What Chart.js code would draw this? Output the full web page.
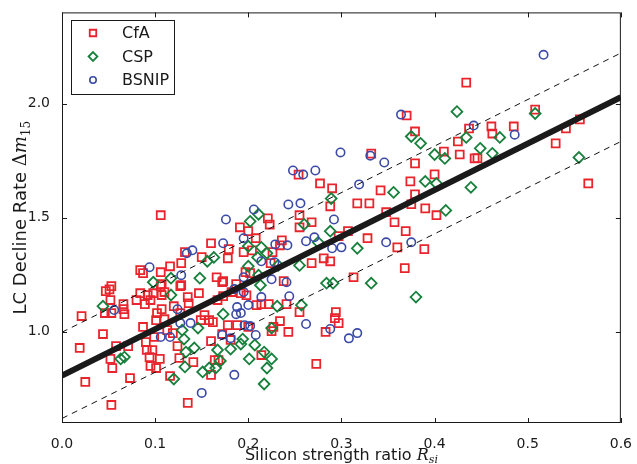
<!DOCTYPE html>
<html>
<head>
<meta charset="utf-8">
<script src="https://cdn.jsdelivr.net/npm/chart.js@4.4.1/dist/chart.umd.min.js"></script>
<style>
  body { margin: 0; background: #fff; }
  canvas { display: block; }
</style>
</head>
<body>
<canvas id="chart" width="637" height="464"></canvas>
<script>
// values
const cfaX = [0.434, 0.370, 0.379, 0.437, 0.425, 0.508, 0.461, 0.462, 0.485, 0.541, 0.556, 0.530, 0.446, 0.565,
  0.332, 0.410, 0.427, 0.443, 0.379, 0.342, 0.400, 0.374, 0.379, 0.317, 0.330, 0.375, 0.390, 0.402, 0.348, 0.357,
  0.369, 0.307, 0.297, 0.328, 0.360, 0.389, 0.368, 0.313,
  0.254, 0.277, 0.290, 0.288, 0.221, 0.223, 0.255, 0.255, 0.268, 0.191, 0.200, 0.208, 0.160, 0.236, 0.234, 0.179,
  0.195, 0.204, 0.226, 0.150, 0.178, 0.224, 0.197, 0.202, 0.268, 0.281, 0.288, 0.166, 0.173, 0.238, 0.187,
  0.172, 0.182, 0.192, 0.198, 0.167, 0.173, 0.214, 0.222, 0.209, 0.241, 0.255, 0.153, 0.158, 0.162, 0.149, 0.178,
  0.188, 0.200, 0.225, 0.227, 0.234, 0.243, 0.172, 0.181, 0.160, 0.164, 0.168, 0.160, 0.214, 0.273, 0.294, 0.293,
  0.297, 0.283,
  0.051, 0.047, 0.052, 0.066, 0.066, 0.067, 0.046, 0.053, 0.021, 0.084, 0.092, 0.098, 0.080, 0.089, 0.095, 0.106,
  0.107, 0.110, 0.127, 0.135, 0.136, 0.147, 0.102, 0.107, 0.101, 0.110, 0.120, 0.127, 0.044, 0.087, 0.019, 0.058,
  0.071, 0.052, 0.054, 0.090, 0.091, 0.097, 0.099, 0.094, 0.095, 0.101, 0.105, 0.113, 0.119, 0.124, 0.126, 0.141,
  0.116, 0.073, 0.025, 0.053, 0.135,
  0.106, 0.132, 0.084, 0.087, 0.106, 0.116, 0.128, 0.107, 0.128, 0.053]
const cfaY = [2.092, 1.948, 1.878, 1.891, 1.834, 1.974, 1.900, 1.869, 1.900, 1.891, 1.931, 1.826, 1.761, 1.650,
  1.781, 1.790, 1.777, 1.760, 1.738, 1.620, 1.690, 1.659, 1.602, 1.563, 1.563, 1.559, 1.541, 1.511, 1.524, 1.480,
  1.441, 1.441, 1.419, 1.410, 1.370, 1.362, 1.279, 1.239,
  1.689, 1.650, 1.629, 1.550, 1.497, 1.470, 1.511, 1.458, 1.480, 1.458, 1.441, 1.410, 1.388, 1.401, 1.379, 1.362,
  1.349, 1.357, 1.349, 1.327, 1.322, 1.301, 1.261, 1.257, 1.301, 1.322, 1.309, 1.239, 1.222, 1.222, 1.209,
  1.217, 1.174, 1.169, 1.160, 1.139, 1.156, 1.121, 1.121, 1.117, 1.121, 1.086, 1.073, 1.051, 1.042, 1.051, 1.029,
  1.029, 1.021, 1.003, 1.021, 1.047, 0.999, 0.990, 0.964, 0.959, 0.876, 0.876, 0.811, 0.898, 0.859, 1.086, 1.060,
  1.038, 0.999,
  1.186, 1.178, 1.139, 1.121, 1.099, 1.077, 1.082, 1.082, 1.069, 1.169, 1.161, 1.169, 1.139, 1.121, 1.139, 1.200,
  1.161, 1.174, 1.200, 1.152, 1.125, 1.169, 1.082, 1.099, 1.051, 1.055, 1.112, 1.082, 0.990, 1.021, 0.929, 0.937,
  0.937, 0.881, 0.841, 0.955, 0.920, 0.920, 0.977, 0.889, 0.850, 0.841, 0.881, 1.007, 0.994, 0.937, 0.885, 0.867,
  0.806, 0.797, 0.780, 0.679, 0.688,
  1.511, 1.349, 1.270, 1.257, 1.261, 1.287, 1.301, 1.209, 1.204, 1.200]

const cspX = [0.424, 0.375, 0.385, 0.434, 0.508, 0.470, 0.449, 0.462, 0.555, 0.400, 0.411, 0.356, 0.390, 0.402,
  0.439, 0.412, 0.317, 0.332, 0.380, 0.289, 0.211, 0.202, 0.260, 0.288, 0.275, 0.200, 0.214, 0.220, 0.210, 0.163,
  0.156, 0.232, 0.200, 0.255, 0.211, 0.148, 0.284, 0.291, 0.213, 0.231, 0.257, 0.173, 0.225, 0.194, 0.192, 0.207,
  0.167, 0.181, 0.170, 0.165, 0.158, 0.151, 0.201, 0.217, 0.225, 0.220, 0.217, 0.044, 0.063, 0.067, 0.120, 0.131,
  0.132, 0.142, 0.133, 0.129, 0.146, 0.117, 0.098, 0.117]
const cspY = [1.965, 1.856, 1.826, 1.852, 1.957, 1.852, 1.804, 1.782, 1.764, 1.777, 1.760, 1.611, 1.659, 1.650,
  1.633, 1.532, 1.366, 1.213, 1.152, 1.584, 1.515, 1.484, 1.471, 1.441, 1.392, 1.375, 1.370, 1.344, 1.326, 1.326,
  1.309, 1.291, 1.287, 1.291, 1.248, 1.235, 1.213, 1.213, 1.204, 1.112, 1.117, 1.077, 1.016, 0.968, 0.946, 0.942,
  0.920, 0.924, 0.872, 0.841, 0.841, 0.824, 0.881, 0.911, 0.881, 0.841, 0.771, 1.112, 0.881, 0.889, 0.793, 0.968,
  0.846, 0.929, 0.911, 1.007, 1.016, 1.161, 1.217, 1.235]

const bsnipX = [0.364, 0.442, 0.517, 0.486, 0.299, 0.331, 0.346, 0.319, 0.348, 0.375, 0.300, 0.308, 0.317, 0.248,
  0.259, 0.272, 0.243, 0.256, 0.206, 0.176, 0.292, 0.195, 0.173, 0.229, 0.242, 0.262, 0.271, 0.290, 0.214, 0.228,
  0.195, 0.241, 0.225, 0.214, 0.244, 0.200, 0.188, 0.187, 0.192, 0.185, 0.195, 0.196, 0.202, 0.208, 0.262, 0.172,
  0.181, 0.185, 0.288, 0.150, 0.056, 0.124, 0.127, 0.138, 0.106, 0.116, 0.094, 0.134, 0.140, 0.128]
const bsnipY = [1.952, 1.904, 2.214, 1.864, 1.786, 1.772, 1.742, 1.646, 1.392, 1.392, 1.370, 0.971, 0.994, 1.707,
  1.689, 1.707, 1.558, 1.563, 1.536, 1.492, 1.492, 1.410, 1.388, 1.383, 1.379, 1.397, 1.414, 1.366, 1.309, 1.305,
  1.239, 1.217, 1.230, 1.152, 1.156, 1.117, 1.108, 1.077, 1.082, 1.187, 1.174, 1.029, 1.025, 0.986, 1.034, 0.986,
  0.972, 0.811, 1.012, 0.732, 1.095, 1.099, 1.038, 1.038, 0.977, 0.977, 1.283, 1.344, 1.357, 1.248]

// fit line and its two dashed bounds, end points at the axis limits
const lineX = [0.0, 0.6]
const fitY = [0.808, 2.028]
const upperY = [0.998, 2.222]
const lowerY = [0.620, 1.834]

const xTicks = [0.0, 0.1, 0.2, 0.3, 0.4, 0.5, 0.6]
const yTicks = [1.0, 1.5, 2.0]
const seriesNames = ['CfA', 'CSP', 'BSNIP']

const toPoints = (xs, ys) => xs.map((x, i) => ({ x: x, y: ys[i] }))

const RED = '#e8242c'
const GREEN = '#17803c'
const BLUE = '#3a4aa6'
const INK = '#1a1a1a'

function drawParts (ctx, parts, cx, cy) {
  let total = 0
  parts.forEach(p => { ctx.font = p.font; p.w = ctx.measureText(p.t).width; total += p.w })
  let x = cx - total / 2
  parts.forEach(p => {
    ctx.font = p.font
    ctx.fillText(p.t, x, cy + (p.dy || 0))
    x += p.w
  })
}

const framePlugin = {
  id: 'frame',
  afterDatasetsDraw (chart) {
    const { ctx, chartArea: a, scales } = chart
    ctx.save()
    ctx.strokeStyle = INK
    ctx.lineWidth = 1
    ctx.strokeRect(a.left + 0.5, a.top + 0.5, a.right - a.left - 1, a.bottom - a.top - 1)
    // ticks point inward on all four sides
    ctx.beginPath()
    xTicks.forEach(v => {
      const px = Math.round(scales.x.getPixelForValue(v)) + 0.5
      ctx.moveTo(px, a.bottom); ctx.lineTo(px, a.bottom - 5)
      ctx.moveTo(px, a.top); ctx.lineTo(px, a.top + 5)
    })
    yTicks.forEach(v => {
      const py = Math.round(scales.y.getPixelForValue(v)) + 0.5
      ctx.moveTo(a.left, py); ctx.lineTo(a.left + 5, py)
      ctx.moveTo(a.right, py); ctx.lineTo(a.right - 5, py)
    })
    ctx.stroke()
    ctx.restore()
  },
  afterDraw (chart) {
    const { ctx, chartArea: a } = chart
    ctx.save()
    ctx.fillStyle = INK
    ctx.textAlign = 'left'
    ctx.textBaseline = 'alphabetic'
    drawParts(ctx, [
      { t: 'Silicon strength ratio ', font: '16px "DejaVu Sans"' },
      { t: 'R', font: 'italic 16px "DejaVu Serif"' },
      { t: 'si', font: 'italic 11px "DejaVu Serif"', dy: 3 }
    ], (a.left + a.right) / 2, 460)

    ctx.translate(26, (a.top + a.bottom) / 2)
    ctx.rotate(-Math.PI / 2)
    drawParts(ctx, [
      { t: 'LC Decline Rate ', font: '18px "DejaVu Sans"' },
      { t: '\u0394', font: '18px "DejaVu Serif"' },
      { t: 'm', font: 'italic 18px "DejaVu Serif"' },
      { t: '15', font: '12px "DejaVu Serif"', dy: 4 }
    ], 0, 0)
    ctx.restore()

    // legend box, top left inside the plot
    ctx.save()
    ctx.fillStyle = '#fff'
    ctx.strokeStyle = INK
    ctx.lineWidth = 1
    ctx.fillRect(71, 20, 103, 74)
    ctx.strokeRect(71.5, 20.5, 103, 74)
    const marks = [chart.data.datasets[0], chart.data.datasets[1], chart.data.datasets[2]]
    marks.forEach((ds, i) => {
      const y = 33 + i * 23.5
      ctx.fillStyle = '#fff'
      ctx.strokeStyle = ds.pointBorderColor
      ctx.lineWidth = ds.pointBorderWidth
      Chart.helpers.drawPoint(ctx, { pointStyle: ds.pointStyle, radius: ds.pointRadius - 1, borderWidth: ds.pointBorderWidth }, 93, y)
      ctx.fillStyle = INK
      ctx.font = '16px "DejaVu Sans"'
      ctx.textBaseline = 'middle'
      ctx.fillText(seriesNames[i], 122, y + 1)
    })
    ctx.restore()
  }
}

const markerBase = {
  showLine: false,
  pointBackgroundColor: 'rgba(0,0,0,0)'
}

new Chart(document.getElementById('chart'), {
  type: 'scatter',
  data: {
    datasets: [
      { ...markerBase, label: seriesNames[0], data: toPoints(cfaX, cfaY), pointStyle: 'rect', pointRadius: 5.6, pointBorderWidth: 1.8, pointBorderColor: RED, order: 5 },
      { ...markerBase, label: seriesNames[1], data: toPoints(cspX, cspY), pointStyle: 'rectRot', pointRadius: 5.4, pointBorderWidth: 1.8, pointBorderColor: GREEN, order: 4 },
      { ...markerBase, label: seriesNames[2], data: toPoints(bsnipX, bsnipY), pointStyle: 'circle', pointRadius: 4.2, pointBorderWidth: 1.6, pointBorderColor: BLUE, order: 3 },
      { label: 'upper', data: toPoints(lineX, upperY), showLine: true, pointRadius: 0, borderColor: '#111', borderWidth: 1, borderDash: [6, 5], order: 2 },
      { label: 'lower', data: toPoints(lineX, lowerY), showLine: true, pointRadius: 0, borderColor: '#111', borderWidth: 1, borderDash: [6, 5], order: 2 },
      { label: 'fit', data: toPoints(lineX, fitY), showLine: true, pointRadius: 0, borderColor: '#1a1a1a', borderWidth: 6, order: 1 }
    ]
  },
  options: {
    responsive: false,
    animation: false,
    devicePixelRatio: 1,
    events: [],
    layout: { padding: { top: 12, right: 13, left: 0, bottom: 0 } },
    plugins: {
      legend: { display: false },
      tooltip: { enabled: false }
    },
    scales: {
      x: {
        type: 'linear',
        min: 0,
        max: 0.6,
        afterBuildTicks: s => { s.ticks = xTicks.map(v => ({ value: v })) },
        afterFit: s => { s.height = 41 },
        grid: { display: false },
        border: { display: false },
        ticks: {
          callback: v => v.toFixed(1),
          color: INK,
          padding: 5,
          maxRotation: 0,
          autoSkip: false,
          font: { family: 'DejaVu Sans', size: 14 }
        }
      },
      y: {
        type: 'linear',
        min: 0.6,
        max: 2.4,
        afterBuildTicks: s => { s.ticks = yTicks.map(v => ({ value: v })) },
        afterFit: s => { s.width = 62 },
        grid: { display: false },
        border: { display: false },
        ticks: {
          callback: v => v.toFixed(1),
          color: INK,
          padding: 4,
          autoSkip: false,
          font: { family: 'DejaVu Sans', size: 14 }
        }
      }
    }
  },
  plugins: [framePlugin]
})
</script>
</body>
</html>
